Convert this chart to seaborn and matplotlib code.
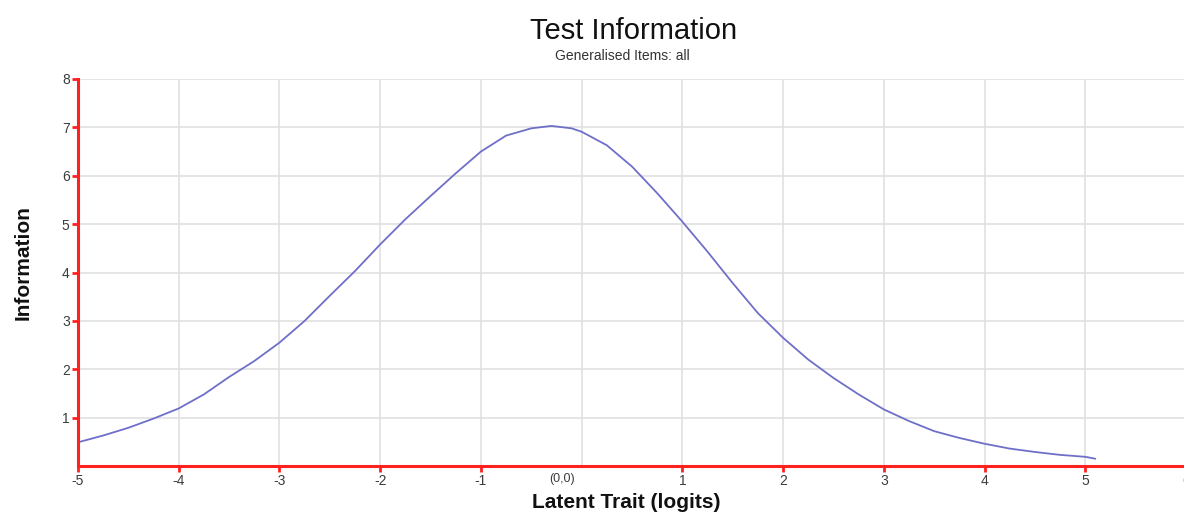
import numpy as np
import pandas as pd
import matplotlib
matplotlib.use('Agg')
import matplotlib.pyplot as plt
import matplotlib.transforms as mtransforms
import seaborn as sns

# valores (logits -> informacao)
theta = [-5.0, -4.75, -4.5, -4.25, -4.0, -3.75, -3.5, -3.25, -3.0, -2.75,
         -2.5, -2.25, -2.0, -1.75, -1.5, -1.25, -1.0, -0.75, -0.5, -0.3,
         -0.1, 0.0, 0.25, 0.5, 0.75, 1.0, 1.25, 1.5, 1.75, 2.0,
         2.25, 2.5, 2.75, 3.0, 3.25, 3.5, 3.75, 4.0, 4.25, 4.5,
         4.75, 5.0, 5.1]
information = [0.49, 0.63, 0.79, 0.98, 1.19, 1.48, 1.84, 2.17, 2.55, 3.0,
               3.52, 4.03, 4.58, 5.1, 5.58, 6.05, 6.5, 6.83, 6.98, 7.03,
               6.98, 6.91, 6.63, 6.19, 5.64, 5.05, 4.43, 3.78, 3.16, 2.65,
               2.2, 1.82, 1.48, 1.17, 0.93, 0.72, 0.58, 0.46, 0.36, 0.29,
               0.23, 0.19, 0.15]
x_ticks = [-5, -4, -3, -2, -1, 1, 2, 3, 4, 5, 6]
y_ticks = [1, 2, 3, 4, 5, 6, 7, 8]

def main():
    sns.set_theme(style='whitegrid')
    plt.rcParams['font.family'] = ['Liberation Sans', 'DejaVu Sans']
    plt.rcParams['axes.unicode_minus'] = False

    df = pd.DataFrame({'theta': theta, 'info': information})

    fig = plt.figure(figsize=(11.84, 5.14), dpi=100)
    ax = fig.add_axes([78 / 1184, 1 - 466 / 514, (1186 - 78) / 1184, (466 - 79) / 514])

    sns.lineplot(data=df, x='theta', y='info', ax=ax, color='#6f6fc9', linewidth=1.3,
                 solid_joinstyle='round')

    ax.set_xlim(-5, 6)
    ax.set_ylim(0, 8)
    ax.set_xticks(x_ticks)
    ax.set_yticks(y_ticks)
    # grade vertical tambem no zero
    ax.axvline(0, color='#e0e0e0', linewidth=1.2, zorder=0)
    ax.grid(True, color='#e0e0e0', linewidth=1.2)
    ax.set_axisbelow(True)

    for s in ['top', 'right']:
        ax.spines[s].set_visible(False)
    for s in ['left', 'bottom']:
        ax.spines[s].set_color('#ff2020')
        ax.spines[s].set_linewidth(2.2)

    ax.tick_params(axis='both', which='major', length=4, width=2, color='#ff2020',
                   labelsize=10, labelcolor='#3c3c3c', pad=2, direction='out')
    ax.tick_params(axis='both', bottom=True, left=True)

    # rotulo do zero deslocado, sem marca
    trans = mtransforms.blended_transform_factory(ax.transData, ax.transAxes)
    ax.text(-0.19, -0.018, '(0,0)', transform=trans, ha='center', va='top',
            fontsize=9, color='#3c3c3c')

    ax.set_xlabel('')
    ax.set_ylabel('')
    fig.text(626 / 1184, 1 - 503 / 514, 'Latent Trait (logits)', ha='center', va='center',
             fontsize=15, fontweight='bold', color='#111111')
    fig.text(23 / 1184, 1 - 263 / 514, 'Information', ha='center', va='center',
             rotation=90, fontsize=15, fontweight='bold', color='#111111')

    fig.text(634 / 1184, 1 - 31 / 514, 'Test Information', ha='center', va='center',
             fontsize=21, color='#111111')
    fig.text(622 / 1184, 1 - 56 / 514, 'Generalised Items: all', ha='center', va='center',
             fontsize=10, color='#333333')

    fig.savefig('out.png', dpi=100)

if __name__ == "__main__":
    main()
